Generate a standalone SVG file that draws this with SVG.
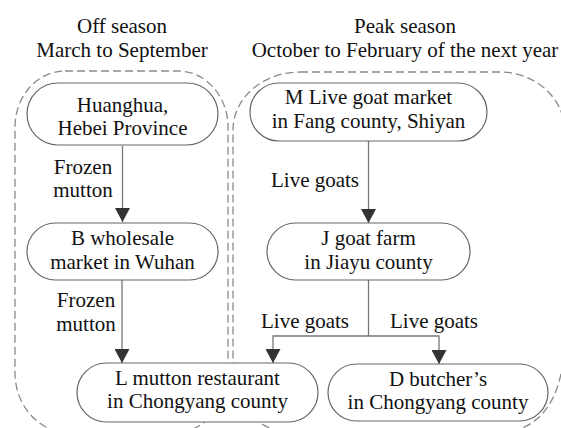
<svg xmlns="http://www.w3.org/2000/svg" width="561" height="428" viewBox="0 0 561 428" font-family="'Liberation Serif', 'Times New Roman', Times, serif">
  <defs>
    <style>
      .region { fill: none; stroke: #8a8a8a; stroke-width: 1.3; stroke-dasharray: 8 4; }
      .node rect { fill: #ffffff; stroke: #666666; stroke-width: 1.2; }
      .conn { fill: none; stroke: #777777; stroke-width: 1.3; }
      .t { font-family: 'Liberation Serif', 'Times New Roman', Times, serif; font-size: 21px; fill: #111111; text-anchor: middle; }
    </style>
    <marker id="arrow" viewBox="0 0 14 15" refX="14" refY="7.5" markerWidth="14" markerHeight="15" markerUnits="userSpaceOnUse" orient="auto">
      <path d="M0,0 L14,7.5 L0,15 Z" fill="#333333"/>
    </marker>
  </defs>
  <rect width="561" height="428" fill="#ffffff"/>

  <g id="titles">
    <text class="t" x="122" y="33">Off season</text>
    <text class="t" x="122" y="57">March to September</text>
    <text class="t" x="405" y="33">Peak season</text>
    <text class="t" x="405" y="57">October to February of the next year</text>
  </g>

  <g id="regions">
    <path id="region-off" class="region" d="M65,71 H178 A50,56 0 0 1 228,127 V377 A55,60 0 0 1 173,433 H70 A55,60 0 0 1 15,373 V127 A50,56 0 0 1 65,71 Z"/>
    <path id="region-peak" class="region" d="M300,72 H500 A65,60 0 0 1 565,132 V330 C565,390 548,434 490,434 H298 A65,60 0 0 1 233,374 V130 A67,58 0 0 1 300,72 Z"/>
  </g>

  <g id="connectors">
    <path class="conn" d="M122.5,146 V222" marker-end="url(#arrow)"/>
    <path class="conn" d="M122,280 V363" marker-end="url(#arrow)"/>
    <path class="conn" d="M368.5,141 V223" marker-end="url(#arrow)"/>
    <path class="conn" d="M368.5,280 V336"/>
    <path class="conn" d="M368.5,336 H273 V363" marker-end="url(#arrow)"/>
    <path class="conn" d="M368.5,336 H439 V364" marker-end="url(#arrow)"/>
    <text class="t" x="83" y="174">Frozen</text>
    <text class="t" x="83" y="197">mutton</text>
    <text class="t" x="86" y="307">Frozen</text>
    <text class="t" x="86" y="331">mutton</text>
    <text class="t" x="315" y="187">Live goats</text>
    <text class="t" x="305" y="328">Live goats</text>
    <text class="t" x="434" y="328">Live goats</text>
  </g>

  <g id="node-huanghua" class="node">
    <rect x="27" y="83" width="191" height="62" rx="31" ry="31"/>
    <text class="t" x="122.5" y="112">Huanghua,</text>
    <text class="t" x="122.5" y="135">Hebei Province</text>
  </g>
  <g id="node-b" class="node">
    <rect x="27" y="223" width="191" height="57" rx="28.5" ry="28.5"/>
    <text class="t" x="122.5" y="245">B wholesale</text>
    <text class="t" x="122.5" y="269">market in Wuhan</text>
  </g>
  <g id="node-m" class="node">
    <rect x="250" y="83" width="237" height="58" rx="29" ry="29"/>
    <text class="t" x="368.5" y="104">M Live goat market</text>
    <text class="t" x="368.5" y="128">in Fang county, Shiyan</text>
  </g>
  <g id="node-j" class="node">
    <rect x="267" y="223" width="203" height="57" rx="28.5" ry="28.5"/>
    <text class="t" x="368.5" y="245">J goat farm</text>
    <text class="t" x="368.5" y="269">in Jiayu county</text>
  </g>
  <g id="node-l" class="node">
    <rect x="77" y="363" width="241" height="59" rx="29.5" ry="29.5"/>
    <text class="t" x="197.5" y="385">L mutton restaurant</text>
    <text class="t" x="197.5" y="408">in Chongyang county</text>
  </g>
  <g id="node-d" class="node">
    <rect x="328" y="364" width="220" height="57" rx="28.5" ry="28.5"/>
    <text class="t" x="438" y="386">D butcher’s</text>
    <text class="t" x="438" y="409">in Chongyang county</text>
  </g>
</svg>
